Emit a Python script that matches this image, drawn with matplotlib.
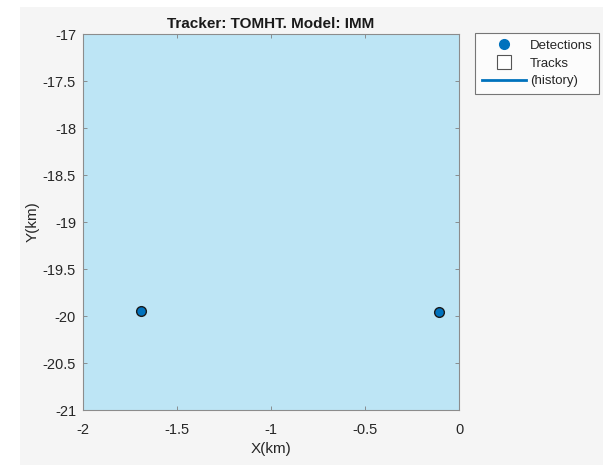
import matplotlib
matplotlib.use("Agg")
import matplotlib.pyplot as plt
from matplotlib.lines import Line2D

# Detection positions (km)
det_x = [-1.69, -0.105]
det_y = [-19.95, -19.96]

x_ticks = [-2, -1.5, -1, -0.5, 0]
x_labels = ["-2", "-1.5", "-1", "-0.5", "0"]
y_ticks = [-21, -20.5, -20, -19.5, -19, -18.5, -18, -17.5, -17]
y_labels = ["-21", "-20.5", "-20", "-19.5", "-19", "-18.5", "-18", "-17.5", "-17"]

plt.rcParams["font.family"] = ["Liberation Sans", "DejaVu Sans"]

W, H = 603, 465
fig = plt.figure(figsize=(W / 100, H / 100), dpi=100)
fig.patch.set_facecolor("white")

# gray figure panel behind the axes
panel = plt.Rectangle((20 / W, 0), 1 - 20 / W, 1 - 7 / H, transform=fig.transFigure,
                      facecolor="#f5f5f5", edgecolor="none", zorder=-10)
fig.add_artist(panel)

ax = fig.add_axes([83 / W, 1 - 410 / H, (459 - 83) / W, (410 - 34) / H])
ax.set_zorder(1)
ax.set_facecolor("#bde5f5")
ax.set_xlim(-2, 0)
ax.set_ylim(-21, -17)
ax.set_xticks(x_ticks)
ax.set_xticklabels(x_labels)
ax.set_yticks(y_ticks)
ax.set_yticklabels(y_labels)
ax.tick_params(direction="in", top=True, right=True, length=3, width=0.6,
               colors="#808080", labelcolor="#262626", labelsize=10.5)
ax.tick_params(axis="x", pad=9)
ax.tick_params(axis="y", pad=5)
for s in ax.spines.values():
    s.set_color("#8c8c8c")
    s.set_linewidth(0.8)

ax.plot(det_x, det_y, linestyle="none", marker="o", markersize=7,
        markerfacecolor="#0072BD", markeredgecolor="#1a1a1a", markeredgewidth=1.0)

ax.set_title("Tracker: TOMHT. Model: IMM", fontsize=11, fontweight="bold",
             color="#1a1a1a", pad=4)
ax.set_xlabel("X(km)", fontsize=11, color="#262626", labelpad=4)
ax.set_ylabel("Y(km)", fontsize=11, color="#262626", labelpad=2)

handles = [
    Line2D([], [], linestyle="none", marker="o", markersize=7,
           markerfacecolor="#0072BD", markeredgecolor="#0072BD"),
    Line2D([], [], linestyle="none", marker="s", markersize=10,
           markerfacecolor="white", markeredgecolor="#555555", markeredgewidth=0.8),
    Line2D([], [], color="#0072BD", linewidth=2),
]
leg = fig.legend(handles, ["Detections", "Tracks", "(history)"],
                 loc="upper left", bbox_to_anchor=(475 / W, 1 - 33 / H),
                 bbox_transform=fig.transFigure, fontsize=9.5,
                 frameon=True, fancybox=False, handlelength=3.4,
                 handletextpad=0.25, labelspacing=0.42, borderpad=0.5,
                 borderaxespad=0)
for t in leg.get_texts():
    t.set_color("#262626")
leg.get_frame().set_edgecolor("#555555")
leg.get_frame().set_linewidth(0.8)
leg.get_frame().set_facecolor("white")

fig.savefig("out.png", dpi=100, facecolor=fig.get_facecolor())
